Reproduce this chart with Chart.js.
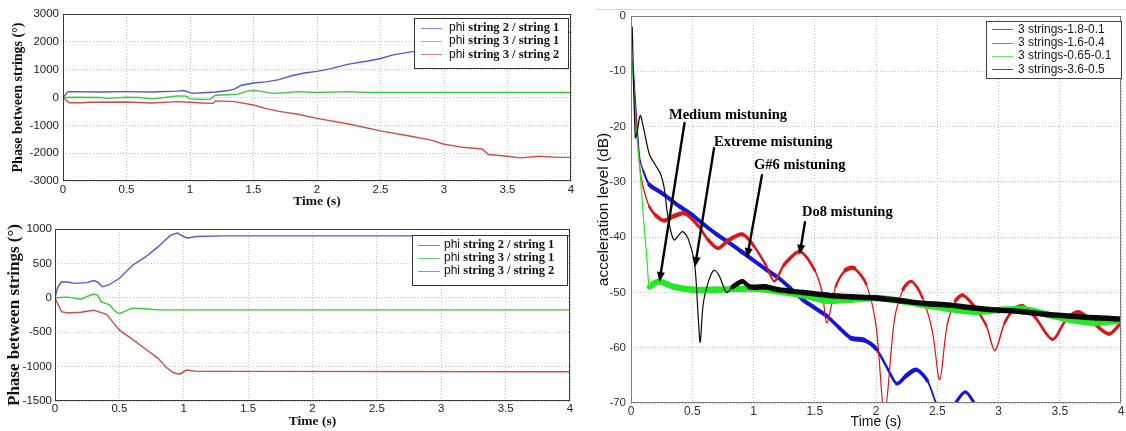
<!DOCTYPE html>
<html><head><meta charset="utf-8">
<script src="https://cdn.jsdelivr.net/npm/chart.js"></script>
<style>
html,body{margin:0;padding:0;background:#fff;width:1126px;height:431px;overflow:hidden;position:relative;}
canvas{position:absolute;}
#c1{left:0;top:0;} #c2{left:0;top:215px;} #c3{left:580px;top:0;}
#cropline{position:absolute;left:595px;top:9px;width:531px;height:0;border-top:1px solid #d4d4d4;}
</style></head><body>
<canvas id="c1" width="580" height="215"></canvas>
<canvas id="c2" width="580" height="216"></canvas>
<div id="cropline"></div>
<canvas id="c3" width="546" height="431"></canvas>
<script>
// ---------------- data ----------------
const phaseLabels = ['phi string 2 / string 1', 'phi string 3 / string 1', 'phi string 3 / string 2'];
const accelLabels = ['3 strings-1.8-0.1', '3 strings-1.6-0.4', '3 strings-0.65-0.1', '3 strings-3.6-0.5'];
const timeTicks = [0, 0.5, 1, 1.5, 2, 2.5, 3, 3.5, 4];
const topPhaseTicks = [-3000, -2000, -1000, 0, 1000, 2000, 3000];
const bottomPhaseTicks = [-1500, -1000, -500, 0, 500, 1000];
const accelTicks = [-70, -60, -50, -40, -30, -20, -10, 0];

// top-left panel
const top21T = [0,0.04,0.3,0.5,0.7,0.9,0.95,1.02,1.1,1.2,1.3,1.35,1.4,1.5,1.6,1.7,1.8,1.9,2.0,2.1,2.25,2.4,2.5,2.6,2.75,2.85,3.0,3.3,3.6,3.9,4.0];
const top21V = [0,210,200,210,200,230,250,150,170,200,250,300,430,520,560,640,780,880,940,1030,1200,1310,1400,1530,1650,1700,1800,1950,2150,2330,2350];
const top31T = [0,0.1,0.3,0.35,0.5,0.6,0.7,0.8,0.9,0.97,1.0,1.1,1.16,1.2,1.3,1.38,1.45,1.5,1.55,1.65,1.75,1.85,2.0,2.25,2.4,2.6,3.0,4.0];
const top31V = [0,10,0,-30,10,0,-50,0,60,50,-50,-70,-60,80,100,120,230,250,230,150,170,210,180,210,180,180,180,180];
const top32T = [0,0.05,0.15,0.2,0.5,0.7,0.9,1.0,1.1,1.18,1.2,1.35,1.5,1.6,1.7,1.85,2.0,2.25,2.5,2.75,2.9,3.0,3.15,3.3,3.35,3.5,3.6,3.75,3.9,4.0];
const top32V = [0,-190,-190,-170,-160,-200,-150,-170,-200,-210,-120,-150,-270,-400,-500,-600,-750,-950,-1200,-1400,-1530,-1680,-1790,-1850,-2050,-2110,-2170,-2110,-2150,-2150];

// bottom-left panel
const bot21T = [0,0.02,0.05,0.1,0.15,0.25,0.3,0.33,0.37,0.42,0.5,0.6,0.7,0.8,0.85,0.9,0.95,1.0,1.03,1.1,1.3,4.0];
const bot21V = [0,150,230,230,210,220,250,230,160,190,280,470,590,740,830,910,940,890,870,890,900,900];
const bot31T = [0,0.1,0.2,0.25,0.3,0.33,0.36,0.42,0.47,0.5,0.55,0.6,0.7,0.8,4.0];
const bot31V = [0,10,-20,20,55,40,-60,-100,-200,-230,-190,-150,-160,-175,-175];
const bot32T = [0,0.05,0.1,0.2,0.3,0.4,0.47,0.5,0.6,0.7,0.8,0.87,0.92,0.97,1.02,1.1,1.3,4.0];
const bot32V = [0,-200,-220,-210,-180,-240,-400,-470,-600,-740,-880,-1020,-1090,-1110,-1050,-1070,-1070,-1075];

// right panel (acceleration level, dB)
const blueT = [0.02,0.07,0.1,0.15,0.25,0.4,0.5,0.6,0.7,0.8,0.9,1.0,1.1,1.2,1.3,1.4,1.5,1.6,1.7,1.8,1.9,2.0,2.1,2.17,2.25,2.33,2.42,2.5,2.58,2.65,2.73,2.8,2.86];
const blueV = [-10,-25.5,-28,-30.5,-32,-34.5,-36,-37.8,-39.5,-41,-42.6,-44.2,-45.8,-47.3,-49.2,-51.3,-52.8,-54.3,-56.4,-58.3,-58.6,-60.2,-64,-66.5,-65,-64,-66,-70.5,-73,-70,-68,-70,-73];
const redT = [0.02,0.07,0.1,0.15,0.2,0.27,0.35,0.44,0.55,0.63,0.71,0.8,0.91,1.0,1.1,1.17,1.25,1.38,1.5,1.56,1.6,1.67,1.75,1.82,1.92,2.0,2.07,2.15,2.22,2.29,2.38,2.46,2.52,2.58,2.65,2.71,2.8,2.9,2.97,3.05,3.13,3.2,3.3,3.44,3.55,3.65,3.75,3.9,4.0];
const redV = [-12,-27,-31,-34.5,-36,-37,-36.2,-35.7,-38,-40.5,-42,-40.5,-39.5,-41.5,-45,-48,-45,-42.6,-46,-50,-55.5,-49,-46,-45.6,-48.5,-56,-72,-55,-49.5,-48,-51,-57,-65.8,-56,-51.5,-50.5,-52.5,-56,-60.5,-55.5,-53,-52.5,-54.5,-58.5,-55,-53.5,-55,-57.5,-55.5];
const greenT = [0.01,0.04,0.07,0.1,0.13,0.15,0.18,0.23,0.35,0.5,0.7,1.0,1.2,1.4,1.6,1.8,2.0,2.2,2.4,2.6,2.8,3.0,3.2,3.4,3.6,3.8,4.0];
const greenV = [-8,-20,-27,-36,-44,-49,-48.5,-48,-49,-49.5,-49.5,-49.3,-49.8,-50.5,-51.5,-51.3,-51,-51.5,-52.3,-53,-53.5,-53.2,-53,-54,-55,-55.5,-55];
const blackT = [0.01,0.035,0.05,0.075,0.1,0.15,0.2,0.24,0.27,0.3,0.35,0.42,0.47,0.52,0.55,0.565,0.59,0.64,0.68,0.72,0.78,0.83,0.91,0.97,1.1,1.2,1.4,1.6,1.8,2.0,2.2,2.4,2.6,2.8,3.0,3.2,3.4,3.6,3.8,4.0];
const blackV = [-2,-22,-21,-18,-20,-25,-27,-28.5,-31,-36,-40.5,-39,-40.5,-45,-55,-59,-52,-47.5,-46,-47,-50,-49,-48,-49,-49,-49.5,-50,-50.5,-50.8,-51,-51.5,-52,-52.3,-52.8,-53.2,-53.5,-54,-54.3,-54.6,-54.8];

// annotations of the right panel (text anchor and arrow, in data units: time s, dB)
const annotLabels = ['Medium mistuning', 'Extreme mistuning', 'G#6 mistuning', 'Do8 mistuning'];
const annotTextT = [0.31, 0.678, 1.004, 1.396];
const annotTextDb = [-17.9, -22.8, -26.95, -35.45];
const arrowTailT = [0.437, 0.678, 1.069, 1.42];
const arrowTailDb = [-19.35, -23.9, -28.8, -37.3];
const arrowHeadT = [0.232, 0.522, 0.947, 1.376];
const arrowHeadDb = [-48.1, -45.4, -43.8, -43.2];

// ---------------- helpers & plugins ----------------
const pts = (t, v) => t.map((x, i) => ({x: x, y: v[i]}));
Chart.defaults.font.family = "'Liberation Sans', Arial, sans-serif";

const frame = {
  id: 'frame',
  afterDatasetsDraw(chart, args, o) {
    const {ctx, chartArea: a} = chart;
    ctx.save();
    ctx.strokeStyle = o.color; ctx.lineWidth = 1;
    ctx.strokeRect(Math.round(a.left) + 0.5, Math.round(a.top) + 0.5,
      Math.round(a.right - a.left) - 1, Math.round(a.bottom - a.top) - 1);
    ctx.restore();
  }
};

const boxLegend = {
  id: 'boxLegend',
  afterDatasetsDraw(chart, args, o) {
    const {ctx, chartArea: a} = chart;
    const x0 = Math.round(a.right - o.right - o.width), y0 = Math.round(a.top + o.top);
    ctx.save();
    ctx.fillStyle = '#fff';
    ctx.fillRect(x0, y0, o.width, o.height);
    ctx.strokeStyle = o.borderColor; ctx.lineWidth = 1;
    ctx.strokeRect(x0 + 0.5, y0 + 0.5, o.width, o.height);
    chart.data.datasets.forEach((d, i) => {
      const y = y0 + o.firstRow + i * o.rowGap;
      ctx.strokeStyle = d.borderColor; ctx.lineWidth = 1; ctx.globalAlpha = o.sampleAlpha;
      ctx.beginPath();
      ctx.moveTo(x0 + o.sample0, Math.round(y) + 0.5);
      ctx.lineTo(x0 + o.sample1, Math.round(y) + 0.5);
      ctx.stroke();
      ctx.globalAlpha = 1;
      ctx.fillStyle = o.textColor; ctx.textBaseline = 'middle'; ctx.textAlign = 'left';
      let tx = x0 + o.textX;
      if (o.prefixFont) {
        const sp = d.label.indexOf(' ');
        const pre = d.label.slice(0, sp + 1), rest = d.label.slice(sp + 1);
        ctx.font = o.prefixFont; ctx.fillText(pre, tx, y);
        tx += ctx.measureText(pre).width;
        ctx.font = o.font; ctx.fillText(rest, tx, y);
      } else {
        ctx.font = o.font; ctx.fillText(d.label, tx, y);
      }
    });
    ctx.restore();
  }
};

const annot = {
  id: 'annot',
  afterDraw(chart, args, o) {
    const {ctx} = chart;
    const xs = chart.scales.x, ys = chart.scales.y;
    ctx.save();
    ctx.font = o.font; ctx.fillStyle = o.color; ctx.textBaseline = 'middle'; ctx.textAlign = 'left';
    annotLabels.forEach((lab, i) => {
      ctx.fillText(lab, xs.getPixelForValue(annotTextT[i]), ys.getPixelForValue(annotTextDb[i]));
      const x1 = xs.getPixelForValue(arrowTailT[i]), y1 = ys.getPixelForValue(arrowTailDb[i]);
      const x2 = xs.getPixelForValue(arrowHeadT[i]), y2 = ys.getPixelForValue(arrowHeadDb[i]);
      const ang = Math.atan2(y2 - y1, x2 - x1);
      const bx = x2 - o.headLen * Math.cos(ang), by = y2 - o.headLen * Math.sin(ang);
      ctx.strokeStyle = o.color; ctx.lineWidth = o.lineWidth; ctx.lineCap = 'round';
      ctx.beginPath(); ctx.moveTo(x1, y1); ctx.lineTo(bx, by); ctx.stroke();
      ctx.beginPath();
      ctx.moveTo(x2, y2);
      ctx.lineTo(bx + o.headHalf * Math.sin(ang), by - o.headHalf * Math.cos(ang));
      ctx.lineTo(bx - o.headHalf * Math.sin(ang), by + o.headHalf * Math.cos(ang));
      ctx.closePath(); ctx.fill();
    });
    ctx.restore();
  }
};

function phaseOptions(c) {
  return {
    responsive: false, animation: false, devicePixelRatio: 1,
    layout: {padding: {left: 0, top: c.top, right: c.right, bottom: 0}},
    elements: {point: {radius: 0}, line: {borderWidth: 1.4, tension: 0}},
    plugins: {
      legend: {display: false}, tooltip: {enabled: false},
      frame: {color: '#3a3a3a'},
      boxLegend: Object.assign({borderColor: '#333', textColor: '#111', sampleAlpha: 0.75,
        font: 'bold 12.5px "Liberation Serif", serif', prefixFont: '12px "Liberation Sans", sans-serif'}, c.legend)
    },
    scales: {
      x: {
        type: 'linear', min: 0, max: 4,
        afterBuildTicks: s => { s.ticks = timeTicks.map(v => ({value: v})); },
        afterFit: s => { s.height = c.xh; s.paddingLeft = 0; s.paddingRight = 0; },
        grid: {color: '#c2c2c2', drawTicks: false, borderDash: [1, 2]},
        border: {display: false, dash: [1, 2]},
        ticks: {padding: c.xtp, color: '#222', font: {size: 11.5}, maxRotation: 0, autoSkip: false, callback: v => String(v)},
        title: {display: true, text: 'Time (s)', color: '#111',
          font: {family: '"Liberation Serif", serif', weight: 'bold', size: 13.5},
          padding: {top: 0, bottom: c.xtitle}}
      },
      y: {
        type: 'linear', min: c.ymin, max: c.ymax,
        afterBuildTicks: s => { s.ticks = c.yticks.map(v => ({value: v})); },
        afterFit: s => { s.width = c.yw; s.paddingTop = 0; s.paddingBottom = 0; },
        grid: {color: '#c2c2c2', drawTicks: false, borderDash: [1, 2]},
        border: {display: false, dash: [1, 2]},
        ticks: {padding: c.ytp, color: '#222', font: {size: 11.5}, autoSkip: false, callback: v => String(v)},
        title: {display: true, text: 'Phase between strings (°)', color: '#111',
          font: {family: '"Liberation Serif", serif', weight: 'bold', size: c.ytitleSize},
          padding: {top: c.ytitle, bottom: 0}}
      }
    }
  };
}

const PBLUE = '#5656d6', PGREEN = '#3cc83c', PRED = '#d04c4c';

new Chart(document.getElementById('c1'), {
  type: 'line',
  data: {datasets: [
    {label: phaseLabels[0], data: pts(top21T, top21V), borderColor: PBLUE, order: 3},
    {label: phaseLabels[1], data: pts(top31T, top31V), borderColor: PGREEN, order: 2},
    {label: phaseLabels[2], data: pts(top32T, top32V), borderColor: PRED, order: 1}
  ]},
  options: phaseOptions({top: 14, right: 9, xh: 34, yw: 63, xtp: 2, xtitle: 5, ytp: 4, ytitle: 9.6, ytitleSize: 14,
    ymin: -3000, ymax: 3000, yticks: topPhaseTicks,
    legend: {right: 3, top: 4, width: 154, height: 50, firstRow: 9.7, rowGap: 13.3, sample0: 7, sample1: 28, textX: 35}}),
  plugins: [frame, boxLegend]
});

new Chart(document.getElementById('c2'), {
  type: 'line',
  data: {datasets: [
    {label: phaseLabels[0], data: pts(bot21T, bot21V), borderColor: PBLUE, order: 3},
    {label: phaseLabels[1], data: pts(bot31T, bot31V), borderColor: PGREEN, order: 2},
    {label: phaseLabels[2], data: pts(bot32T, bot32V), borderColor: PRED, order: 1}
  ]},
  options: phaseOptions({top: 14, right: 10, xh: 30, yw: 55, xtp: 1, xtitle: 1.5, ytp: 3, ytitle: 4.8, ytitleSize: 17,
    ymin: -1500, ymax: 1000, yticks: bottomPhaseTicks,
    legend: {right: 3, top: 6, width: 155, height: 50, firstRow: 10, rowGap: 13, sample0: 6, sample1: 28, textX: 32}}),
  plugins: [frame, boxLegend]
});

// line drawn as a band of constant vertical thickness (thin where steep)
function bandWidth(band, thinBefore) {
  return ctx => {
    if (thinBefore !== undefined && ctx.p1.parsed.x <= thinBefore) return 1.2;
    const dx = Math.abs(ctx.p1.x - ctx.p0.x), dy = Math.abs(ctx.p1.y - ctx.p0.y);
    const len = Math.hypot(dx, dy) || 1;
    return Math.max(1.2, band * dx / len);
  };
}

new Chart(document.getElementById('c3'), {
  type: 'line',
  data: {datasets: [
    {label: accelLabels[0], data: pts(blueT, blueV), borderColor: '#1414dc', order: 4, segment: {borderWidth: bandWidth(5)}},
    {label: accelLabels[1], data: pts(redT, redV), borderColor: '#e01414', order: 3, segment: {borderWidth: bandWidth(4.5)}},
    {label: accelLabels[2], data: pts(greenT, greenV), borderColor: '#22ea22', order: 2, segment: {borderWidth: bandWidth(6.5)}},
    {label: accelLabels[3], data: pts(blackT, blackV), borderColor: '#0a0a0a', order: 1, segment: {borderWidth: bandWidth(5.5, 0.9)}}
  ]},
  options: {
    responsive: false, animation: false, devicePixelRatio: 1,
    layout: {padding: {left: 0, top: 16, right: 5, bottom: 0}},
    elements: {point: {radius: 0}, line: {borderWidth: 3, tension: 0.3, borderCapStyle: 'round', borderJoinStyle: 'round'}},
    datasets: {line: {clip: 0}},
    plugins: {
      legend: {display: false}, tooltip: {enabled: false},
      frame: {color: '#7c7c7c'},
      boxLegend: {right: 0, top: 5, width: 135, height: 57, firstRow: 8.3, rowGap: 13.3, sample0: 6, sample1: 27, textX: 32,
        borderColor: '#444', textColor: '#1a1a1a', sampleAlpha: 0.7, font: '12px "Liberation Sans", sans-serif'},
      annot: {font: 'bold 14.5px "Liberation Serif", serif', color: '#000', lineWidth: 2.4, headLen: 10, headHalf: 4}
    },
    scales: {
      x: {
        type: 'linear', min: 0, max: 4,
        afterBuildTicks: s => { s.ticks = timeTicks.map(v => ({value: v})); },
        afterFit: s => { s.height = 28; s.paddingLeft = 0; s.paddingRight = 0; },
        grid: {color: '#bdbdbd', drawTicks: false, borderDash: [1, 2]},
        border: {display: false, dash: [1, 2]},
        ticks: {padding: 1, color: '#333', font: {size: 12}, maxRotation: 0, autoSkip: false, callback: v => String(v)},
        title: {display: true, text: 'Time (s)', color: '#111', font: {size: 14}, padding: {top: 0, bottom: 0}}
      },
      y: {
        type: 'linear', min: -70, max: 0,
        afterBuildTicks: s => { s.ticks = accelTicks.map(v => ({value: v})); },
        afterFit: s => { s.width = 51; s.paddingTop = 0; s.paddingBottom = 0; },
        grid: {color: '#bdbdbd', drawTicks: false, borderDash: [1, 2]},
        border: {display: false, dash: [1, 2]},
        ticks: {padding: 5, color: '#333', font: {size: 11.5}, autoSkip: false, callback: v => String(v)},
        title: {display: true, text: 'acceleration level (dB)', color: '#111', font: {size: 15.5}, padding: {top: 14.7, bottom: 0}}
      }
    }
  },
  plugins: [frame, boxLegend, annot]
});
</script>
</body></html>
